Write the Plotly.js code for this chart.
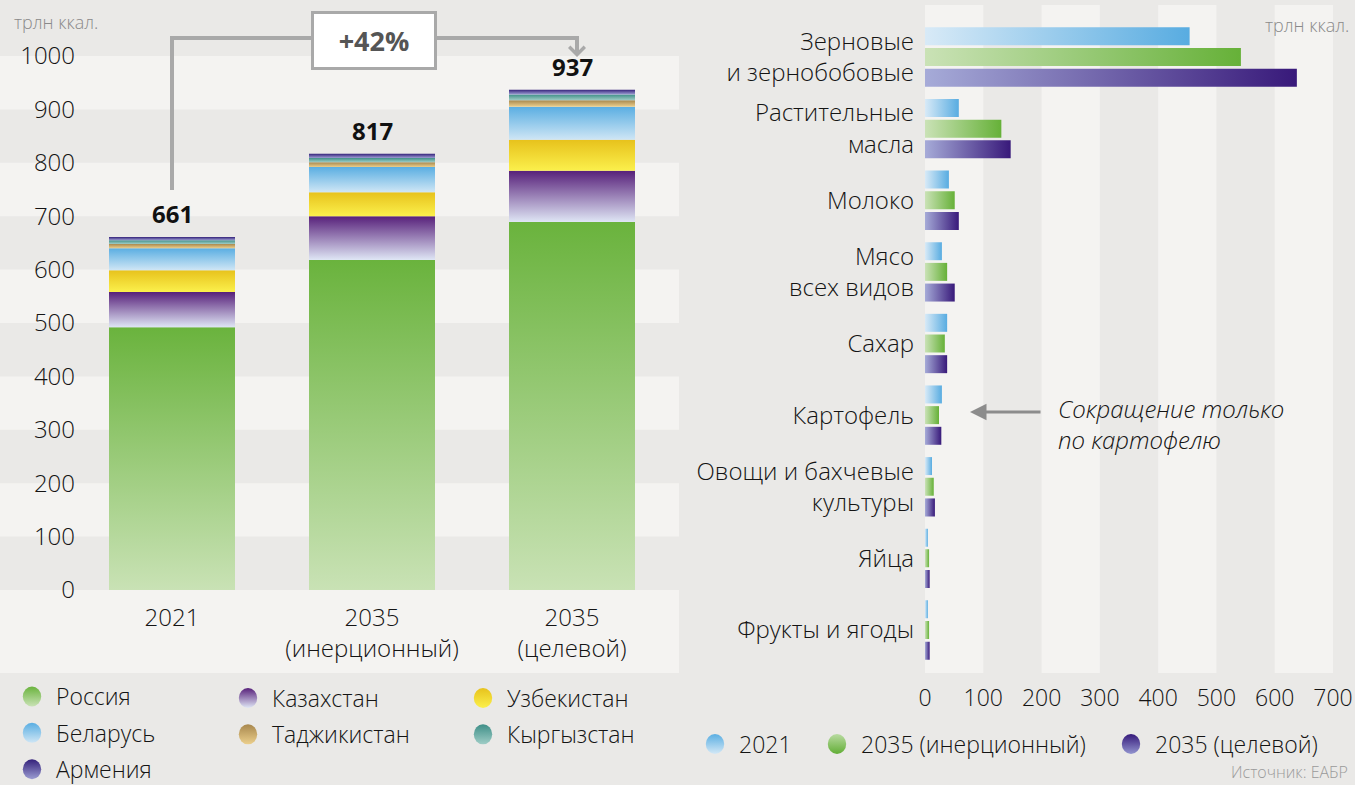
<!DOCTYPE html>
<html>
<head>
<meta charset="utf-8">
<script src="https://cdn.plot.ly/plotly-3.0.1.min.js"></script>
<style>html,body{margin:0;padding:0;background:#eae9e7;} #chart{width:1355px;height:785px;}</style>
</head>
<body>
<div id="chart"></div>
<script>
// ---------- DATA ----------
const scenarios = ["2021", "2035<br>(инерционный)", "2035<br>(целевой)"];
const countries = ["Россия", "Казахстан", "Узбекистан", "Беларусь", "Таджикистан", "Кыргызстан", "Армения"];
const russia     = [492, 618, 689];
const kazakhstan = [66, 82, 96];
const uzbekistan = [41, 45, 58];
const belarus    = [41, 47, 62];
const tajikistan = [8, 9, 12];
const kyrgyzstan = [7, 8, 11];
const armenia    = [6, 8, 9];

const products = ["Зерновые<br>и зернобобовые", "Растительные<br>масла", "Молоко", "Мясо<br>всех видов", "Сахар", "Картофель", "Овощи и бахчевые<br>культуры", "Яйца", "Фрукты и ягоды"];
const seriesNames = ["2021", "2035 (инерционный)", "2035 (целевой)"];
const prod2021     = [454, 58, 41, 29, 38, 29, 12, 5, 5];
const prodInertial = [542, 131, 51, 38, 34, 24, 15, 7, 7];
const prodTarget   = [638, 147, 58, 51, 38, 28, 17, 8, 8];

const yTicks = [0, 100, 200, 300, 400, 500, 600, 700, 800, 900, 1000];
const xTicks = [0, 100, 200, 300, 400, 500, 600, 700];

// ---------- STYLE ----------
const W = 1355, H = 785;
const px = x => x / W;
const py = y => 1 - y / H;
const FONT = '"Open Sans", "Noto Sans", sans-serif';
const TXT = '#141414';
const LIGHT = '#f4f3f1';
const GREY = '#a9a9a9';
const WEIGHT = 300;

const countryData = [russia, kazakhstan, uzbekistan, belarus, tajikistan, kyrgyzstan, armenia];
const countryGrad = [
  ['gRu', '#6ab33d', '#c9e2b5'],
  ['gKz', '#57207a', '#dfe6f5'],
  ['gUz', '#e7c21c', '#fbf04c'],
  ['gBy', '#5aaee2', '#cfe6f5'],
  ['gTj', '#a8884e', '#eccf8c'],
  ['gKg', '#3f8f88', '#9fcdc6'],
  ['gAm', '#34217a', '#9c9dd2']
];
const countryMid = ['#95c974', '#8f78b0', '#f1d935', '#92c9ec', '#caab6e', '#6daea7', '#6a5fa8'];
const countryLegend = ['legend', 'legend2', 'legend3', 'legend', 'legend2', 'legend3', 'legend'];

const prodGrad = [
  ['hA', '#d8eaf7', '#58ace1'],
  ['hB', '#cae2b6', '#66b138'],
  ['hC', '#a6abd8', '#38197a']
];
const prodLegGrad = [
  ['lA', '#5aaee2', '#d3e8f6'],
  ['lB', '#b9dba1', '#62ae36'],
  ['lC', '#35197a', '#9294cf']
];
const prodMid = ['#8cc6ea', '#96c979', '#5a4a9e'];
const prodData = [prod2021, prodInertial, prodTarget];

// ---------- TRACES ----------
const traces = [];
const base = [0, 0, 0];
countryData.forEach((vals, i) => {
  traces.push({
    type: 'bar', x: scenarios, y: vals, base: base.slice(),
    width: 0.63, offset: -0.315,
    xaxis: 'x', yaxis: 'y', name: countries[i], showlegend: false,
    marker: {color: countryMid[i], line: {width: 0}}, meta: countryGrad[i][0],
    hoverinfo: 'skip'
  });
  vals.forEach((v, j) => { base[j] += v; });
});
const totals = base.slice();

countryData.forEach((vals, i) => {
  traces.push({
    type: 'scatter', mode: 'markers', x: [null], y: [null], xaxis: 'x', yaxis: 'y',
    name: countries[i], legend: countryLegend[i], legendgroup: 'c' + i, showlegend: true,
    marker: {symbol: 'circle', size: 16, color: countryMid[i]}, meta: countryGrad[i][0]
  });
});

prodData.forEach((vals, i) => {
  traces.push({
    type: 'bar', orientation: 'h', y: products, x: vals, xaxis: 'x2', yaxis: 'y2',
    name: seriesNames[i], showlegend: false,
    marker: {color: prodMid[i], line: {width: 0}}, meta: prodGrad[i][0], hoverinfo: 'skip'
  });
});
prodData.forEach((vals, i) => {
  traces.push({
    type: 'scatter', mode: 'markers', x: [null], y: [null], xaxis: 'x2', yaxis: 'y2',
    name: seriesNames[i], legend: 'legend' + (4 + i), showlegend: true,
    marker: {symbol: 'circle', size: 16, color: prodMid[i]}, meta: prodLegGrad[i][0]
  });
});

// ---------- SHAPES ----------
const shapes = [];
[100, 300, 500, 700, 900].forEach(v => {
  shapes.push({type: 'rect', layer: 'below', xref: 'paper', yref: 'y', x0: 0, x1: px(679), y0: v, y1: v + 100,
    fillcolor: LIGHT, line: {width: 0}});
});
shapes.push({type: 'rect', layer: 'below', xref: 'paper', yref: 'paper', x0: 0, x1: px(679), y0: py(673), y1: py(590),
  fillcolor: LIGHT, line: {width: 0}});
[0, 200, 400, 600].forEach(v => {
  shapes.push({type: 'rect', layer: 'below', xref: 'x2', yref: 'paper', x0: v, x1: v + 100, y0: py(673), y1: py(5),
    fillcolor: LIGHT, line: {width: 0}});
});
// bracket
shapes.push({type: 'path', xref: 'paper', yref: 'paper',
  path: `M ${px(172)},${py(190)} L ${px(172)},${py(38)} L ${px(312)},${py(38)}`,
  line: {color: GREY, width: 4}});
shapes.push({type: 'path', xref: 'paper', yref: 'paper',
  path: `M ${px(436)},${py(38)} L ${px(577)},${py(38)} L ${px(577)},${py(44)}`,
  line: {color: GREY, width: 4}});

// ---------- ANNOTATIONS ----------
const annotations = [];
totals.forEach((t, i) => {
  annotations.push({xref: 'x', yref: 'y', x: i, y: t, yanchor: 'bottom', yshift: 5,
    text: '<b>' + t + '</b>', showarrow: false, font: {size: 24, color: '#111', family: FONT}});
});
annotations.push({xref: 'paper', yref: 'paper', x: px(374), y: py(40.5), xanchor: 'center', yanchor: 'middle',
  text: '<b>+42%</b>', showarrow: false, width: 120, height: 53, bgcolor: '#ffffff',
  bordercolor: GREY, borderwidth: 3, borderpad: 0, font: {size: 27, color: '#555', family: FONT}});
annotations.push({xref: 'paper', yref: 'paper', x: px(577), y: py(57), text: '', showarrow: true,
  axref: 'pixel', ayref: 'pixel', ax: 0, ay: -20, arrowhead: 4, arrowsize: 0.75, arrowwidth: 4, arrowcolor: GREY, standoff: 0});
annotations.push({xref: 'paper', yref: 'paper', x: px(12), y: py(22), xanchor: 'left', yanchor: 'middle',
  text: 'трлн ккал.', showarrow: false, font: {size: 18, color: '#8a8a8a', family: FONT, weight: WEIGHT}});
annotations.push({xref: 'paper', yref: 'paper', x: px(1351), y: py(25), xanchor: 'right', yanchor: 'middle',
  text: 'трлн ккал.', showarrow: false, font: {size: 18, color: '#8a8a8a', family: FONT, weight: WEIGHT}});
annotations.push({xref: 'paper', yref: 'paper', x: px(970), y: py(412), text: '', showarrow: true,
  axref: 'pixel', ayref: 'pixel', ax: 72, ay: 0, arrowhead: 2, arrowsize: 1.1, arrowwidth: 3, arrowcolor: '#8c8c8c', standoff: 0});
annotations.push({xref: 'paper', yref: 'paper', x: px(1056), y: py(424), xanchor: 'left', yanchor: 'middle', align: 'left',
  text: '<i>Сокращение только<br>по картофелю</i>', showarrow: false, font: {size: 24, color: TXT, family: FONT, weight: WEIGHT}});
annotations.push({xref: 'paper', yref: 'paper', x: px(1350), y: py(785), xanchor: 'right', yanchor: 'bottom',
  text: 'Источник: ЕАБР', showarrow: false, font: {size: 16, color: '#9a9a9a', family: FONT, weight: WEIGHT}});

// ---------- LAYOUT ----------
const legBase = {orientation: 'v', xanchor: 'left', yanchor: 'middle', bgcolor: 'rgba(0,0,0,0)', borderwidth: 0,
  itemwidth: 38, tracegroupgap: 3.5, itemclick: false, itemdoubleclick: false,
  font: {size: 23, color: TXT, family: FONT, weight: WEIGHT}};
const layout = {
  width: W, height: H,
  margin: {l: 0, r: 0, t: 0, b: 0, autoexpand: false},
  paper_bgcolor: '#eae9e7', plot_bgcolor: 'rgba(0,0,0,0)',
  font: {family: FONT, size: 22, color: TXT, weight: WEIGHT},
  barmode: 'group', bargap: 0.134, bargroupgap: 0.13,
  xaxis: {domain: [px(76), px(672)], range: [-0.48, 2.5], type: 'category', showgrid: false, zeroline: false,
    showline: false, ticks: '', tickfont: {size: 24, color: TXT, weight: WEIGHT}, fixedrange: true, ticklabelstandoff: 11},
  yaxis: {domain: [py(590), py(590 - 1090 * 0.534)], range: [0, 1090], tickvals: yTicks, ticktext: yTicks.map(String),
    showgrid: false, zeroline: false, showline: false, ticks: '', tickfont: {size: 24, color: TXT, weight: WEIGHT}, fixedrange: true},
  xaxis2: {domain: [px(925), px(1333)], range: [0, 700], tickvals: xTicks, showgrid: false, zeroline: false,
    showline: false, ticks: '', tickfont: {size: 23, color: TXT, weight: WEIGHT}, anchor: 'y2', fixedrange: true, ticklabelstandoff: 16},
  yaxis2: {domain: [py(665.8), py(21.2)], range: [8.5, -0.5], type: 'category', anchor: 'x2', showgrid: false,
    zeroline: false, showline: false, ticks: '', tickfont: {size: 24, color: TXT, weight: WEIGHT}, fixedrange: true, ticklabelstandoff: 10},
  legend:  Object.assign({}, legBase, {x: px(8), y: py(733)}),
  legend2: Object.assign({}, legBase, {x: px(224), y: py(716.5)}),
  legend3: Object.assign({}, legBase, {x: px(459), y: py(716.5)}),
  legend4: Object.assign({}, legBase, {x: px(691), y: py(744)}),
  legend5: Object.assign({}, legBase, {x: px(813), y: py(744)}),
  legend6: Object.assign({}, legBase, {x: px(1107), y: py(744)}),
  shapes: shapes, annotations: annotations,
  showlegend: true, hovermode: false
};

// ---------- GRADIENTS ----------
function makeDefs() {
  const NS = 'http://www.w3.org/2000/svg';
  const svg = document.createElementNS(NS, 'svg');
  svg.setAttribute('width', '0'); svg.setAttribute('height', '0');
  svg.style.position = 'absolute'; svg.style.left = '0'; svg.style.top = '0';
  const defs = document.createElementNS(NS, 'defs');
  svg.appendChild(defs);
  document.body.appendChild(svg);
  function grad(id, c1, c2, horiz) {
    const g = document.createElementNS(NS, 'linearGradient');
    g.setAttribute('id', id);
    g.setAttribute('x1', '0'); g.setAttribute('y1', '0');
    g.setAttribute('x2', horiz ? '1' : '0'); g.setAttribute('y2', horiz ? '0' : '1');
    [[0, c1], [1, c2]].forEach(s => {
      const st = document.createElementNS(NS, 'stop');
      st.setAttribute('offset', s[0]); st.setAttribute('stop-color', s[1]);
      g.appendChild(st);
    });
    defs.appendChild(g);
  }
  countryGrad.forEach(g => grad(g[0], g[1], g[2], false));
  prodGrad.forEach(g => grad(g[0], g[1], g[2], true));
  prodLegGrad.forEach(g => grad(g[0], g[1], g[2], false));
}
function applyGradients(gd) {
  gd.querySelectorAll('.barlayer .trace').forEach(tr => {
    const d = tr.__data__; const t = d && d[0] && d[0].trace;
    if (!t || !t.meta) return;
    tr.querySelectorAll('path').forEach(p => { p.style.fill = 'url(#' + t.meta + ')'; });
  });
  gd.querySelectorAll('.infolayer .traces').forEach(tr => {
    const d = tr.__data__; const t = d && d[0] && d[0].trace;
    if (!t || !t.meta) return;
    tr.querySelectorAll('path.scatterpts').forEach(p => {
      p.style.fill = 'url(#' + t.meta + ')'; p.style.stroke = 'none';
      const tf = p.getAttribute('transform') || '';
      p.setAttribute('transform', tf + ' scale(1.15,1.25)');
    });
  });
}
makeDefs();
const gd = document.getElementById('chart');
Plotly.newPlot(gd, traces, layout, {displayModeBar: false, staticPlot: true}).then(() => applyGradients(gd));
</script>
</body>
</html>
